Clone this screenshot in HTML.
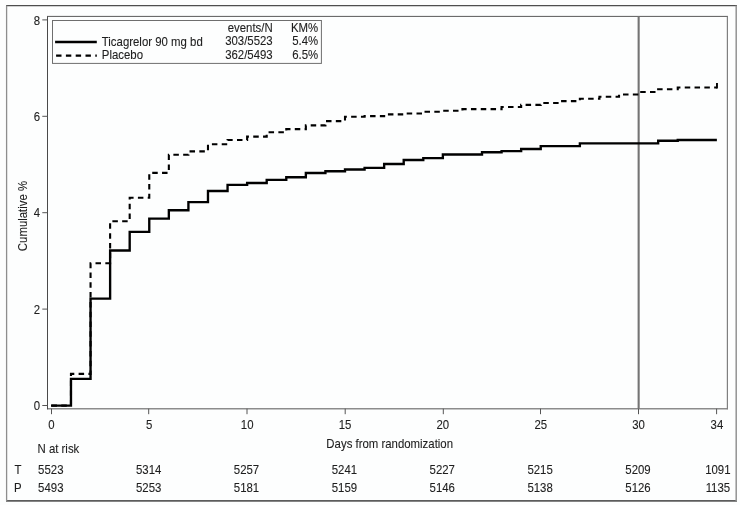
<!DOCTYPE html><html><head><meta charset="utf-8"><title>KM</title>
<style>html,body{margin:0;padding:0;background:#fdfefe;overflow:hidden;}svg{display:block;will-change:transform;opacity:0.999;}text{font-family:"Liberation Sans",sans-serif;font-size:11.4px;fill:#1e1e1e;stroke:#1e1e1e;stroke-width:0.1px;}</style></head><body>
<svg width="740" height="505" viewBox="0 0 740 505">
<rect x="0" y="0" width="740" height="505" fill="#fdfefe"/>
<line x1="6" y1="5.5" x2="737" y2="5.5" stroke="#4e4e4e" stroke-width="1.25"/>
<line x1="6" y1="500.9" x2="737" y2="500.9" stroke="#5c5c5c" stroke-width="1.8"/>
<line x1="6.6" y1="5.5" x2="6.6" y2="501" stroke="#8e8e8e" stroke-width="1.3"/>
<line x1="736.2" y1="5.5" x2="736.2" y2="501" stroke="#929292" stroke-width="1.5"/>
<line x1="47" y1="16.4" x2="728" y2="16.4" stroke="#5a5a5a" stroke-width="1"/>
<line x1="47" y1="408.7" x2="728" y2="408.7" stroke="#8c8c8c" stroke-width="1.4"/>
<line x1="47.5" y1="16.4" x2="47.5" y2="409.3" stroke="#4a4a4a" stroke-width="1"/>
<line x1="727.4" y1="16.4" x2="727.4" y2="409.3" stroke="#808080" stroke-width="1.2"/>
<line x1="638.65" y1="16.5" x2="638.65" y2="408.7" stroke="#747474" stroke-width="2.1"/>
<line x1="51.50" y1="408.7" x2="51.50" y2="414.2" stroke="#555" stroke-width="1"/>
<text transform="translate(51.40 428.6) scale(1 1.04)" text-anchor="middle">0</text>
<line x1="148.70" y1="408.7" x2="148.70" y2="414.2" stroke="#555" stroke-width="1"/>
<text transform="translate(149.27 428.6) scale(1 1.04)" text-anchor="middle">5</text>
<line x1="247.00" y1="408.7" x2="247.00" y2="414.2" stroke="#555" stroke-width="1"/>
<text transform="translate(247.13 428.6) scale(1 1.04)" text-anchor="middle">10</text>
<line x1="345.20" y1="408.7" x2="345.20" y2="414.2" stroke="#555" stroke-width="1"/>
<text transform="translate(345.00 428.6) scale(1 1.04)" text-anchor="middle">15</text>
<line x1="443.30" y1="408.7" x2="443.30" y2="414.2" stroke="#555" stroke-width="1"/>
<text transform="translate(442.86 428.6) scale(1 1.04)" text-anchor="middle">20</text>
<line x1="540.50" y1="408.7" x2="540.50" y2="414.2" stroke="#555" stroke-width="1"/>
<text transform="translate(540.73 428.6) scale(1 1.04)" text-anchor="middle">25</text>
<line x1="638.50" y1="408.7" x2="638.50" y2="414.2" stroke="#555" stroke-width="1"/>
<text transform="translate(638.59 428.6) scale(1 1.04)" text-anchor="middle">30</text>
<line x1="716.60" y1="408.7" x2="716.60" y2="414.2" stroke="#555" stroke-width="1"/>
<text transform="translate(716.88 428.6) scale(1 1.04)" text-anchor="middle">34</text>
<line x1="42.3" y1="405.50" x2="47.6" y2="405.50" stroke="#555" stroke-width="1"/>
<text transform="translate(40 410.10) scale(1 1.04)" text-anchor="end">0</text>
<line x1="42.3" y1="309.10" x2="47.6" y2="309.10" stroke="#555" stroke-width="1"/>
<text transform="translate(40 313.70) scale(1 1.04)" text-anchor="end">2</text>
<line x1="42.3" y1="212.70" x2="47.6" y2="212.70" stroke="#555" stroke-width="1"/>
<text transform="translate(40 217.30) scale(1 1.04)" text-anchor="end">4</text>
<line x1="42.3" y1="116.30" x2="47.6" y2="116.30" stroke="#555" stroke-width="1"/>
<text transform="translate(40 120.90) scale(1 1.04)" text-anchor="end">6</text>
<line x1="42.3" y1="19.90" x2="47.6" y2="19.90" stroke="#555" stroke-width="1"/>
<text transform="translate(40 24.50) scale(1 1.04)" text-anchor="end">8</text>
<path d="M51.00 405.60 H70.97 V378.90 H90.55 V298.60 H110.12 V250.50 H129.69 V231.90 H149.27 V218.65 H168.84 V210.20 H188.41 V202.10 H207.98 V191.00 H227.56 V184.85 H247.13 V183.00 H266.70 V179.80 H286.28 V177.20 H305.85 V173.00 H325.42 V171.20 H345.00 V169.50 H364.57 V167.80 H384.14 V164.00 H403.71 V160.00 H423.29 V158.10 H442.86 V154.50 H462.43 V154.50 H482.01 V152.20 H501.58 V151.10 H521.15 V149.00 H540.73 V146.05 H560.30 V146.05 H579.87 V143.40 H599.44 V143.40 H619.02 V143.40 H638.59 V143.40 H658.16 V140.70 H677.74 V140.00 H697.31 V140.00 H716.88" fill="none" stroke="#000" stroke-width="2.35" stroke-linejoin="miter"/>
<path d="M51.00 405.60 H70.97 V373.90 H90.55 V263.30 H110.12 V221.30 H129.69 V197.80 H149.27 V172.90 H168.84 V154.80 H188.41 V151.35 H207.98 V144.30 H227.56 V139.95 H247.13 V136.60 H266.70 V132.30 H286.28 V129.10 H305.85 V125.40 H325.42 V121.10 H345.00 V116.80 H364.57 V116.10 H384.14 V114.35 H403.71 V113.50 H423.29 V111.70 H442.86 V110.80 H462.43 V109.10 H482.01 V109.10 H501.58 V106.95 H521.15 V104.90 H540.73 V103.00 H560.30 V101.15 H579.87 V98.80 H599.44 V96.80 H619.02 V94.45 H638.59 V92.00 H658.16 V89.30 H677.74 V87.50 H697.31 V87.50 H716.88" fill="none" stroke="#000" stroke-width="2.1" stroke-dasharray="5.5 4.308" stroke-dashoffset="-0.46"/>
<line x1="716.98" y1="88.5" x2="716.98" y2="83.00" stroke="#000" stroke-width="1.9"/>
<rect x="52.5" y="20.5" width="268.9" height="42.9" fill="#fdfefe" stroke="#6e6e6e" stroke-width="1"/>
<line x1="55.1" y1="42" x2="96.8" y2="42" stroke="#000" stroke-width="2.4"/>
<line x1="56.1" y1="55.6" x2="96.8" y2="55.6" stroke="#000" stroke-width="2.1" stroke-dasharray="5.4 4.4"/>
<text transform="translate(101.8 45.7) scale(1 1.04)">Ticagrelor 90 mg bd</text>
<text transform="translate(101.8 59.3) scale(1 1.04)">Placebo</text>
<text transform="translate(272.7 31.5) scale(1 1.04)" text-anchor="end">events/N</text>
<text transform="translate(272.7 45) scale(1 1.04)" text-anchor="end">303/5523</text>
<text transform="translate(272.7 58.6) scale(1 1.04)" text-anchor="end">362/5493</text>
<text transform="translate(318.2 31.9) scale(1 1.04)" text-anchor="end">KM%</text>
<text transform="translate(318.2 45.4) scale(1 1.04)" text-anchor="end">5.4%</text>
<text transform="translate(318.2 59) scale(1 1.04)" text-anchor="end">6.5%</text>
<text transform="translate(389.7 447.9) scale(1 1.04)" text-anchor="middle">Days from randomization</text>
<text transform="translate(27.2 216) rotate(-90) scale(1 1.04)" text-anchor="middle">Cumulative %</text>
<text transform="translate(37.5 452.7) scale(1 1.04)">N at risk</text>
<text transform="translate(14.6 473.5) scale(1 1.04)">T</text>
<text transform="translate(13.9 491.7) scale(1 1.04)">P</text>
<text transform="translate(50.80 473.5) scale(1 1.04)" text-anchor="middle">5523</text>
<text transform="translate(50.80 491.7) scale(1 1.04)" text-anchor="middle">5493</text>
<text transform="translate(148.67 473.5) scale(1 1.04)" text-anchor="middle">5314</text>
<text transform="translate(148.67 491.7) scale(1 1.04)" text-anchor="middle">5253</text>
<text transform="translate(246.53 473.5) scale(1 1.04)" text-anchor="middle">5257</text>
<text transform="translate(246.53 491.7) scale(1 1.04)" text-anchor="middle">5181</text>
<text transform="translate(344.39 473.5) scale(1 1.04)" text-anchor="middle">5241</text>
<text transform="translate(344.39 491.7) scale(1 1.04)" text-anchor="middle">5159</text>
<text transform="translate(442.26 473.5) scale(1 1.04)" text-anchor="middle">5227</text>
<text transform="translate(442.26 491.7) scale(1 1.04)" text-anchor="middle">5146</text>
<text transform="translate(540.12 473.5) scale(1 1.04)" text-anchor="middle">5215</text>
<text transform="translate(540.12 491.7) scale(1 1.04)" text-anchor="middle">5138</text>
<text transform="translate(637.99 473.5) scale(1 1.04)" text-anchor="middle">5209</text>
<text transform="translate(637.99 491.7) scale(1 1.04)" text-anchor="middle">5126</text>
<text transform="translate(717.88 473.5) scale(1 1.04)" text-anchor="middle">1091</text>
<text transform="translate(717.88 491.7) scale(1 1.04)" text-anchor="middle">1135</text>
</svg></body></html>
